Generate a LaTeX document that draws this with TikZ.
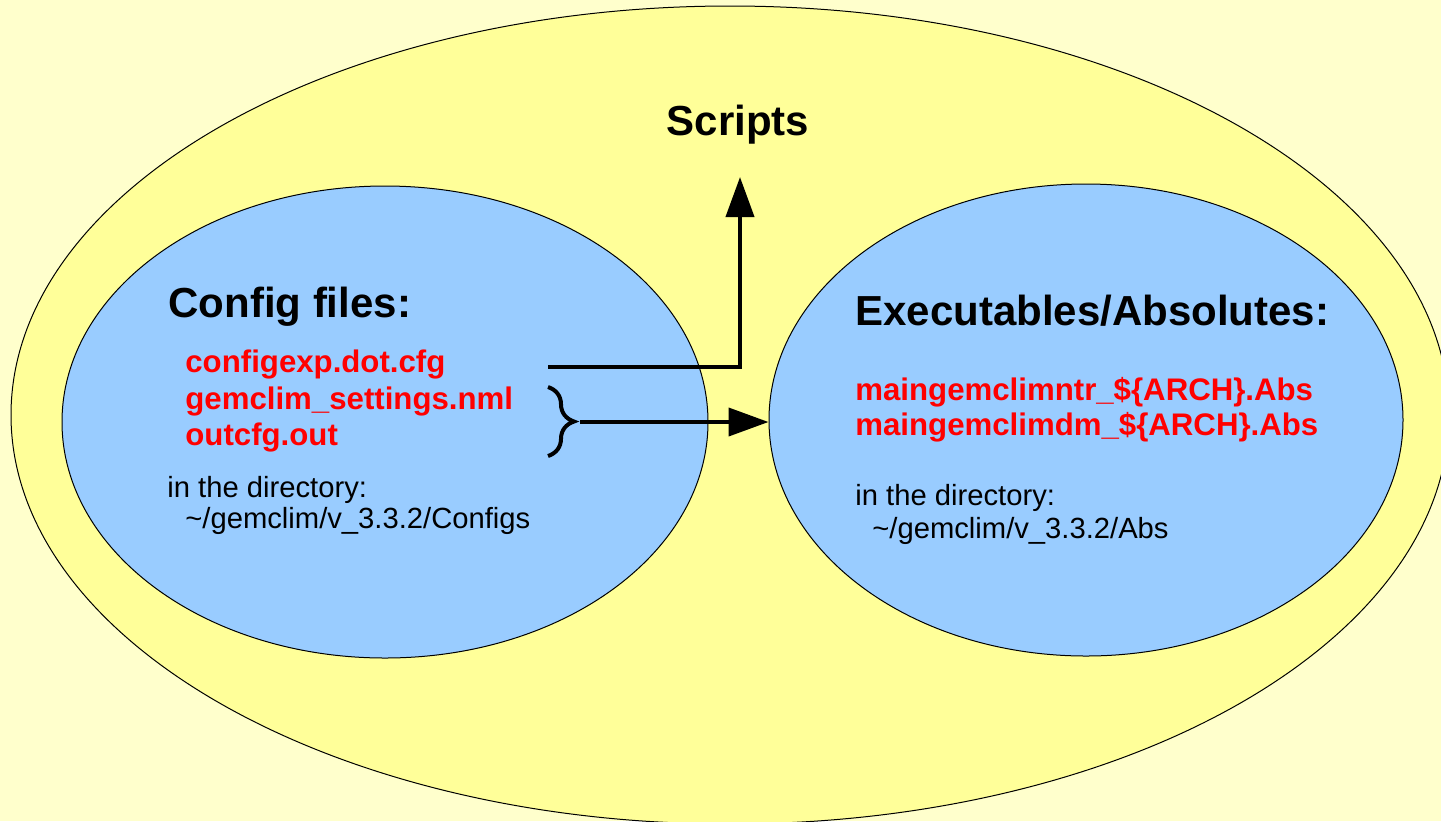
\documentclass[tikz,border=0pt]{standalone}
\usepackage{fontspec}
\setmainfont{Liberation Sans}
\usetikzlibrary{shapes.geometric,arrows.meta,decorations.pathreplacing}
\definecolor{bgyellow}{HTML}{FFFFCC}
\definecolor{ringyellow}{HTML}{FFFF99}
\definecolor{cfgblue}{HTML}{99CCFF}
\definecolor{filered}{HTML}{FF0000}
\tikzset{
  blob/.style={ellipse,draw,line width=0.5pt,inner sep=0pt},
  head/.style={inner sep=0pt,font=\bfseries\fontsize{21}{25}\selectfont},
  fname/.style={inner sep=0pt,anchor=base west,text=filered,font=\bfseries\fontsize{15.6}{18}\selectfont},
  dirtext/.style={inner sep=0pt,anchor=base west,font=\fontsize{14.6}{17}\selectfont},
  conn/.style={line width=2pt,-{Triangle[length=20pt,width=14pt]}}
}
\begin{document}
\begin{tikzpicture}[x=0.5pt,y=-0.5pt]
		% Hintergrund
		\fill[bgyellow] (0,0) rectangle (1441,821);
		\useasboundingbox (0,0) rectangle (1441,821);
		% grosse Ellipse
		\node[blob,fill=ringyellow,minimum width=719pt,minimum height=409pt] (screll) at (730,415) {};
		\node[head,anchor=base] (scripts) at (738,135) {Scripts};
		% linke Ellipse: Config
		\node[blob,fill=cfgblue,minimum width=323pt,minimum height=236pt] (cfgell) at (385,422) {};
		\node[head,anchor=base west] (cfgtitle) at (168,317) {Config files:};
		\foreach \y/\n/\t in {372/1/configexp.dot.cfg,409/2/gemclim\_settings.nml,445/3/outcfg.out}
		\node[fname] (cfg\n) at (185,\y) {\t};
		\node[dirtext] (cfgdir) at (167,497) {in the directory:};
		\node[dirtext] (cfgpath) at (185,528) {\textasciitilde/gemclim/v\_3.3.2/Configs};
		% rechte Ellipse: Abs
		\node[blob,fill=cfgblue,minimum width=317pt,minimum height=236pt] (absell) at (1086,420) {};
		\node[head,anchor=base west] (abstitle) at (855,325) {Executables/Absolutes:};
		\foreach \y/\n/\t in {400/1/maingemclimntr\_\$\{ARCH\}.Abs,435/2/maingemclimdm\_\$\{ARCH\}.Abs}
		\node[fname] (abs\n) at (855,\y) {\t};
		\node[dirtext] (absdir) at (855,505) {in the directory:};
		\node[dirtext] (abspath) at (872,538) {\textasciitilde/gemclim/v\_3.3.2/Abs};
		% Pfeil nach oben zu Scripts
		\coordinate (cfgout) at (548,367);
		\coordinate (scrin) at (740,177);
		\draw[conn] (cfgout) -| (scrin);
		% Klammer und Pfeil nach rechts
		\draw[line width=2pt,decorate,decoration={brace,amplitude=13pt,aspect=0.5}] (548,387) -- (548,456);
		\coordinate (brtip) at (580,422);
		\draw[conn] (brtip) -- (brtip -| absell.west);
	\end{tikzpicture}
\end{document}
